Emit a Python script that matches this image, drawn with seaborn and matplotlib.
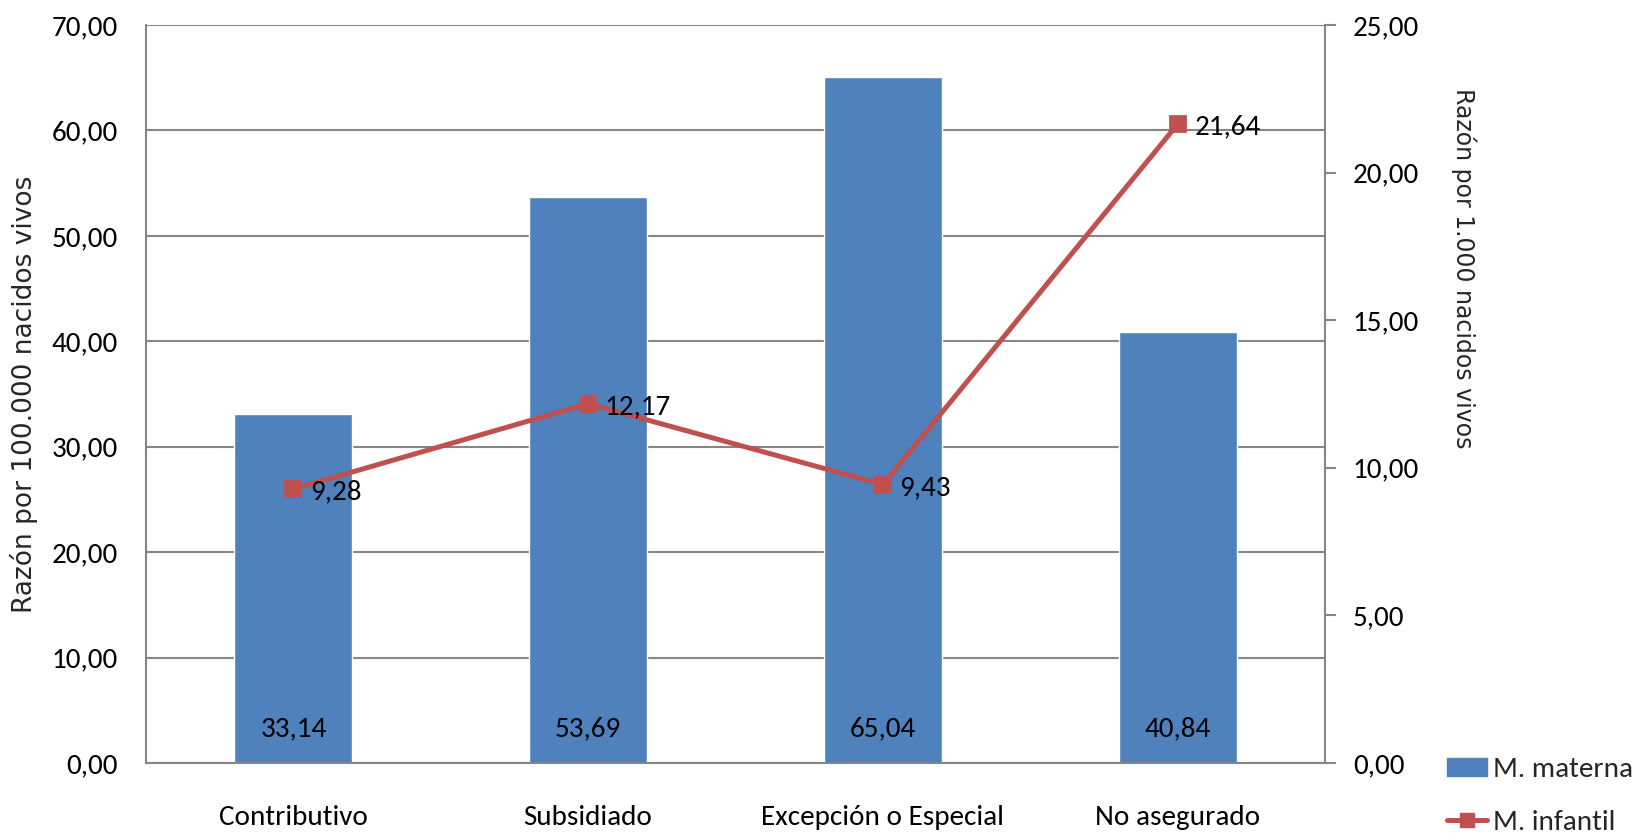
import matplotlib
matplotlib.use("Agg")
import matplotlib.pyplot as plt
import matplotlib.transforms as mtransforms
from matplotlib import font_manager
from matplotlib.patches import Patch
from matplotlib.lines import Line2D
import seaborn as sns
import pandas as pd

categories = ["Contributivo", "Subsidiado", "Excepción o Especial", "No asegurado"]
materna = [33.14, 53.69, 65.04, 40.84]
infantil = [9.28, 12.17, 9.43, 21.64]
left_ticks = [0, 10, 20, 30, 40, 50, 60, 70]
right_ticks = [0, 5, 10, 15, 20, 25]
series_names = ["M. materna", "M. infantil"]
left_label = "Razón por 100.000 nacidos vivos"
right_label = "Razón por 1.000 nacidos vivos"

BLUE = "#4F81BD"
RED = "#C0504D"
GRAY = "#868686"

sns.set_theme(style="white")

# pick a narrow (Calibri-like) face if one is installed
installed = {f.name for f in font_manager.fontManager.ttflist}
if "Carlito" in installed:
    MAIN, FS = "Carlito", 21
elif "Liberation Sans Narrow" in installed:
    MAIN, FS = "Liberation Sans Narrow", 20
else:
    MAIN, FS = "Liberation Sans", 18
plt.rcParams["font.family"] = [MAIN, "DejaVu Sans"]

def fmt(v):
    return f"{v:.2f}".replace(".", ",")

df = pd.DataFrame({"cat": categories, "materna": materna, "infantil": infantil})

fig = plt.figure(figsize=(16.45, 8.36), dpi=100)
ax = fig.add_axes([146 / 1645, 73 / 836, (1325 - 146) / 1645, (763 - 25) / 836])

sns.barplot(data=df, x="cat", y="materna", ax=ax, color=BLUE, saturation=1,
            width=0.4, zorder=2)
ax.set_xlim(-0.5, len(categories) - 0.5)
ax.set_ylim(0, 70)
ax.set_yticks(left_ticks)
ax.set_yticklabels([fmt(t) for t in left_ticks])
ax.yaxis.grid(True, color=GRAY, linewidth=1.5, zorder=0)
ax.set_axisbelow(True)
for s in ["top", "right"]:
    ax.spines[s].set_visible(False)
for s in ["left", "bottom"]:
    ax.spines[s].set_color(GRAY)
    ax.spines[s].set_linewidth(1.5)
ax.tick_params(axis="y", length=0, pad=20, labelsize=FS, labelcolor="black")
ax.tick_params(axis="x", length=0, pad=30, labelsize=FS, labelcolor="black")
ax.set_xlabel("")
ax.set_ylabel(left_label, fontsize=19, family=["DejaVu Sans"], va="center")
ax.yaxis.set_label_coords(-0.1035, 0.5)

trans = mtransforms.blended_transform_factory(ax.transData, ax.transAxes)
for i, v in enumerate(materna):
    ax.text(i, 0.046, fmt(v), transform=trans, ha="center", va="center",
            fontsize=FS, color="black", zorder=5)

ax2 = ax.twinx()
sns.pointplot(data=df, x="cat", y="infantil", ax=ax2, color=RED, markers="s",
              markersize=10, linewidth=3.6, zorder=4)
ax2.set_xlim(-0.5, len(categories) - 0.5)
ax2.set_ylim(0, 25)
ax2.set_yticks(right_ticks)
ax2.set_yticklabels([fmt(t) for t in right_ticks])
for s in ["top", "left", "bottom"]:
    ax2.spines[s].set_visible(False)
ax2.spines["right"].set_color(GRAY)
ax2.spines["right"].set_linewidth(1.5)
ax2.tick_params(axis="y", direction="out", length=8, width=1.5, color=GRAY,
                pad=12, labelsize=FS, labelcolor="black")
ax2.set_xlabel("")
ax2.set_ylabel(right_label, fontsize=17, family=["DejaVu Sans"], rotation=270,
               va="center")
ax2.yaxis.set_label_coords(1.118, 0.671)
ax2.grid(False)

for i, v in enumerate(infantil):
    ax2.annotate(fmt(v), xy=(i, v), xytext=(12, -2), textcoords="offset points",
                 ha="left", va="center", fontsize=FS, color="black", zorder=6)

handles = [Patch(facecolor=BLUE, edgecolor=BLUE),
           Line2D([0], [0], color=RED, linewidth=3.6, marker="s", markersize=10)]
fig.legend(handles, series_names, loc="upper left",
           bbox_to_anchor=(1447 / 1645, 1 - 757 / 836), frameon=False,
           fontsize=FS, handlelength=1.37, handleheight=0.58, handletextpad=0.2,
           labelspacing=0.95, borderaxespad=0, borderpad=0)

fig.savefig("out.png", dpi=100)
